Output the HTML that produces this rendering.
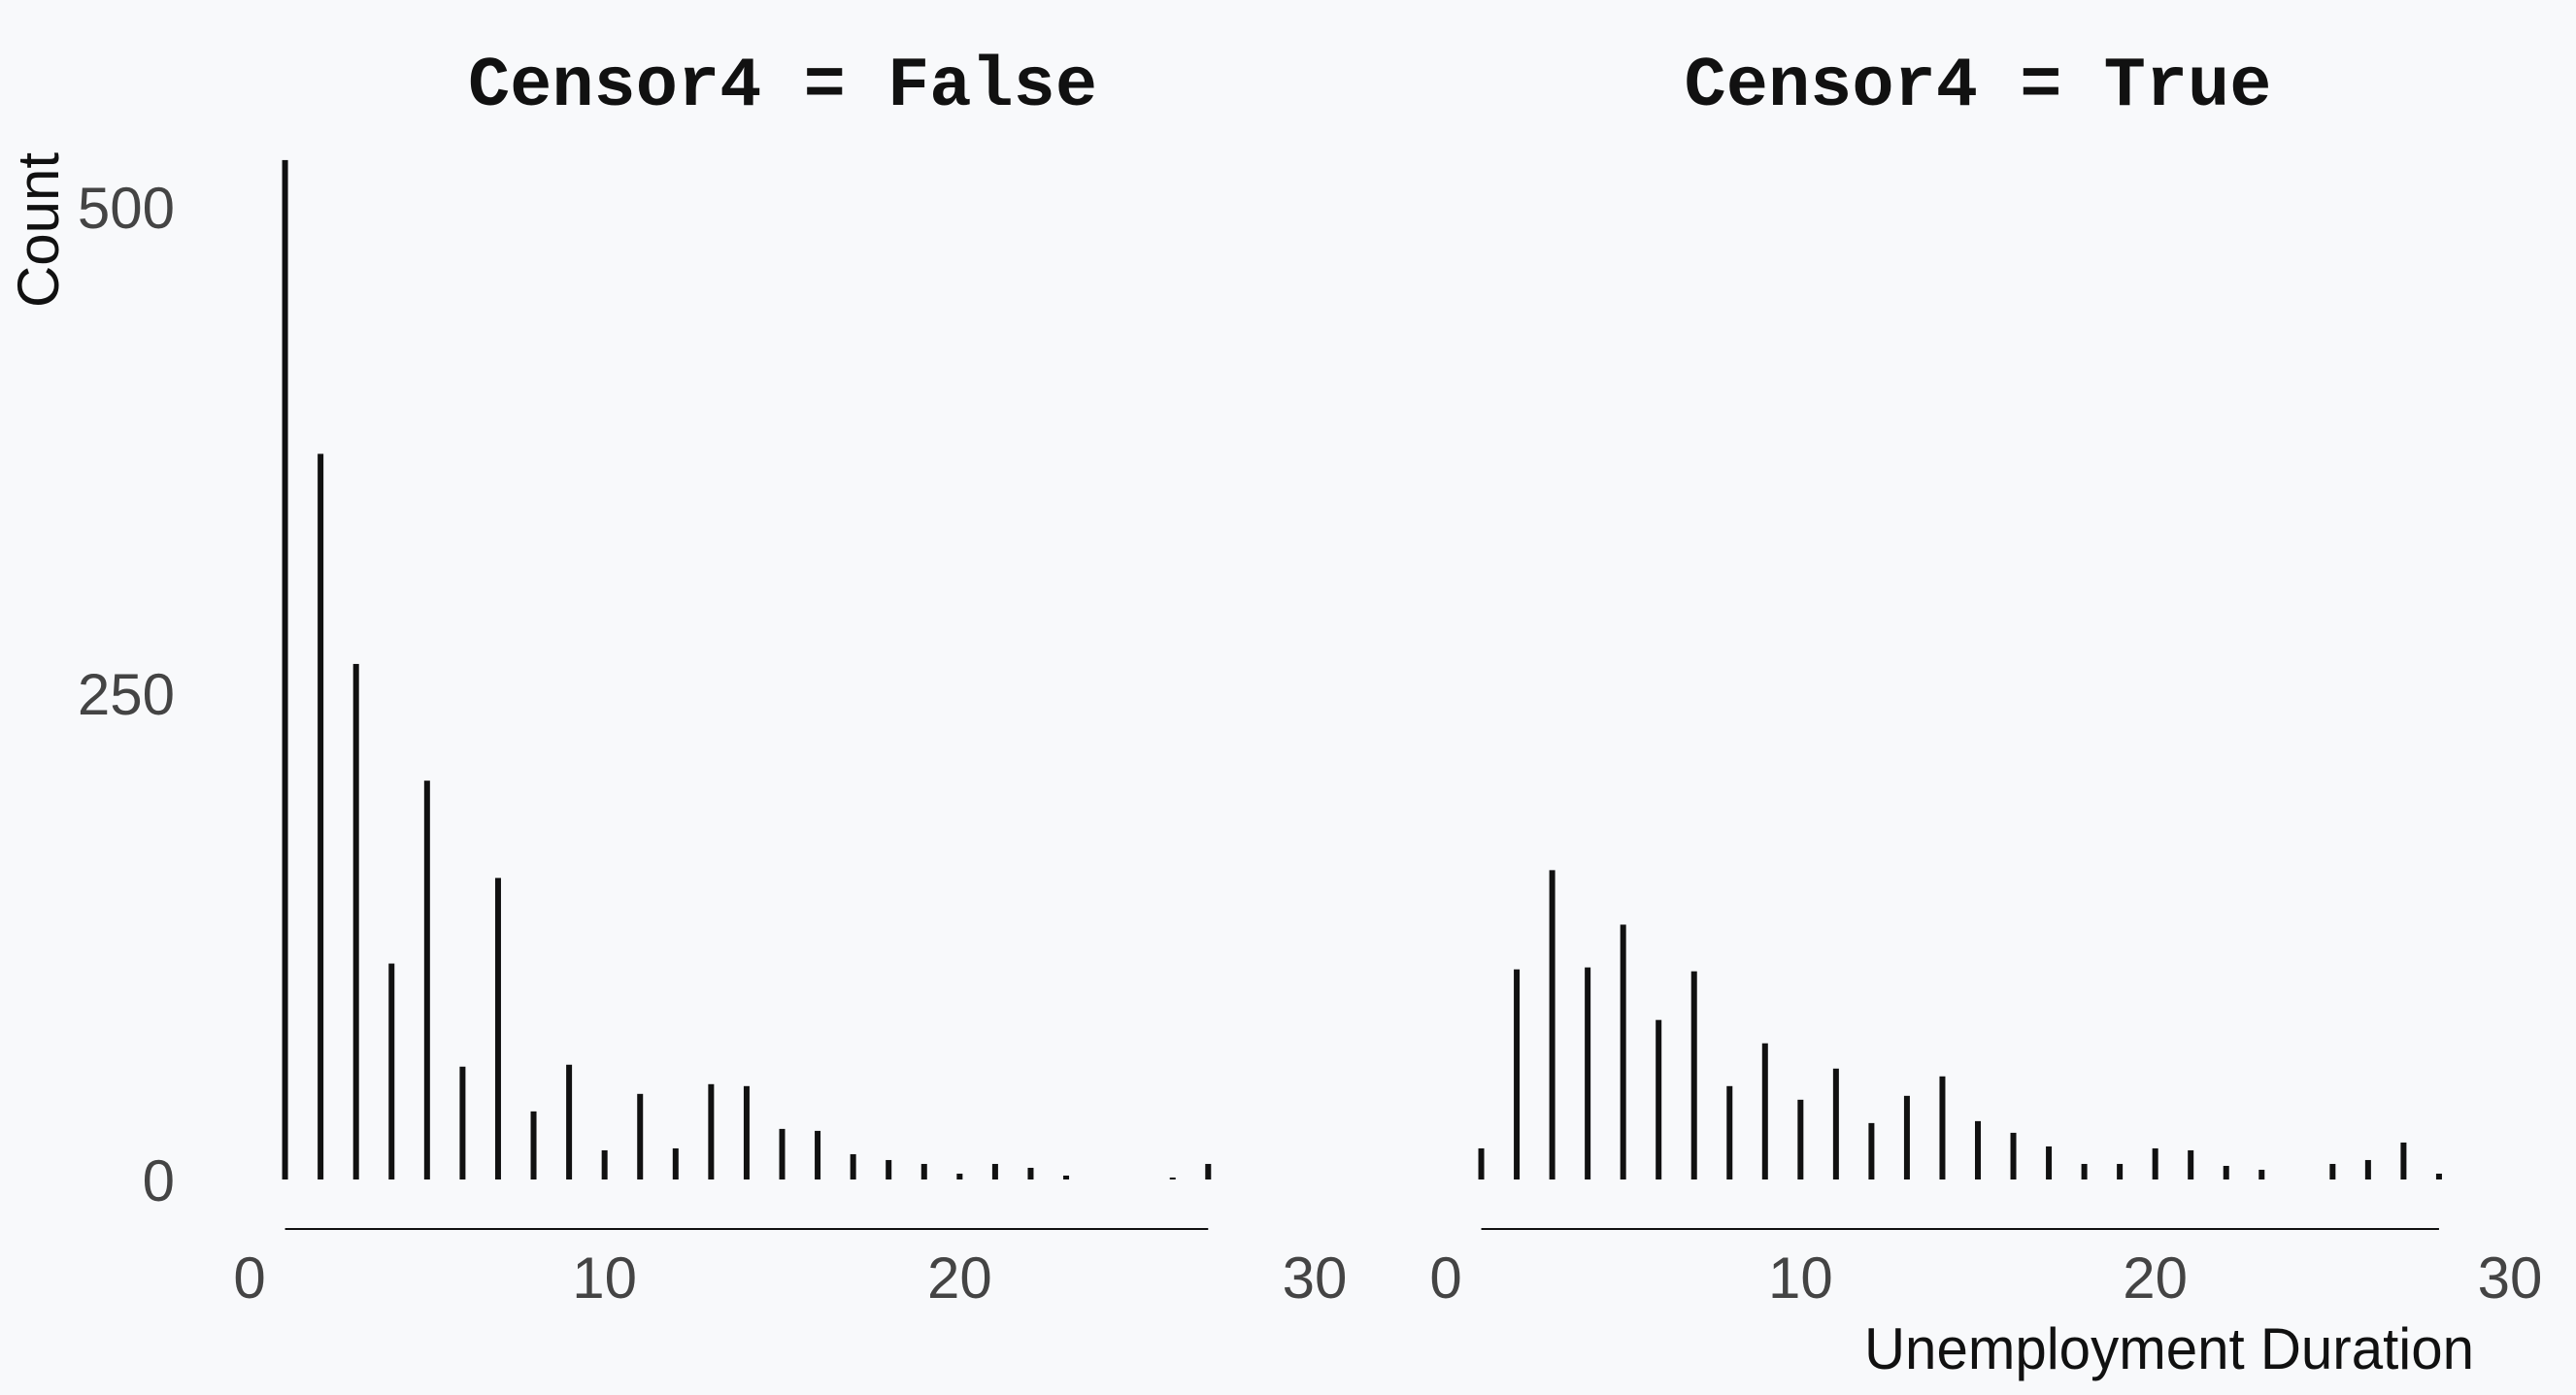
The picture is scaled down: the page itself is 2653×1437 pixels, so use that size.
<!DOCTYPE html>
<html><head><meta charset="utf-8"><style>
html,body{margin:0;padding:0;background:#f8f9fb;}
svg{display:block;}
.tick{font-family:"Liberation Sans Narrow","Liberation Sans",sans-serif;font-size:60px;fill:#444;}
.title{font-family:"Liberation Mono",monospace;font-weight:bold;font-size:72px;fill:#111;}
.axt{font-family:"Liberation Sans Narrow","Liberation Sans",sans-serif;font-size:60px;fill:#111;}
</style></head><body>
<svg id="chart" width="2653" height="1437">
<rect width="2653" height="1437" fill="#f8f9fb"/>
</svg>
<script>
const durations = [1,2,3,4,5,6,7,8,9,10,11,12,13,14,15,16,17,18,19,20,21,22,23,24,25,26,27,28];
const countsFalse = [524,373,265,111,205,58,155,35,59,15,44,16,49,48,26,25,13,10,8,3,8,6,2,0,0,1,8,0];
const countsTrue = [16,108,159,109,131,82,107,48,70,41,57,29,43,53,30,24,17,8,8,16,15,7,5,0,8,10,19,3];
const xTicks = [0,10,20,30];
const yTicks = [0,250,500];
const panelTitles = ["Censor4 = False","Censor4 = True"];

const NS="http://www.w3.org/2000/svg";
const svg=document.getElementById('chart');
function mk(tag,attrs,parent){const e=document.createElementNS(NS,tag);for(const k in attrs)e.setAttribute(k,attrs[k]);(parent||svg).appendChild(e);return e;}
const y0=1215, yPer=501/250;
function yS(v){return y0-v*yPer;}
const panels=[{x0:257,x30:1354,data:countsFalse,name:'false',tc:806},{x0:1489,x30:2585,data:countsTrue,name:'true',tc:2037}];

panels.forEach((p,pi)=>{
  const xS=v=>p.x0+(p.x30-p.x0)*v/30;
  const g=mk('g',{});
  
  
  const t=mk('text',{x:p.tc,y:108,'text-anchor':'middle',class:'title'},g);
  t.textContent=panelTitles[pi];
  
  
  let lastNZ=0;
  p.data.forEach((v,i)=>{if(v>0)lastNZ=i;});
  p.data.forEach((v,i)=>{
    if(v<=0)return;
    const r=mk('rect',{x:xS(durations[i])-3,y:yS(v),width:6,height:y0-yS(v),fill:'#111'},g);
    
    
  });
  const l=mk('line',{x1:xS(durations[0]),x2:xS(durations[lastNZ]),y1:1266,y2:1266,stroke:'#111','stroke-width':2},g);
  
  
  xTicks.forEach(tv=>{
    const tt=mk('text',{x:xS(tv),y:1337,'text-anchor':'middle',class:'tick'},g);
    tt.textContent=tv;
    
    
  });
});
yTicks.forEach(tv=>{
  const tt=mk('text',{x:180,y:yS(tv)+22,'text-anchor':'end',class:'tick'});
  tt.textContent=tv;
  
  
});
const yt=mk('text',{x:0,y:0,'text-anchor':'middle',class:'axt',transform:'translate(60,237) rotate(-90)'});
yt.textContent='Count';


const xt=mk('text',{x:1920,y:1410,class:'axt',textLength:628,lengthAdjust:'spacingAndGlyphs'});
xt.textContent='Unemployment Duration';


</script>
</body></html>
